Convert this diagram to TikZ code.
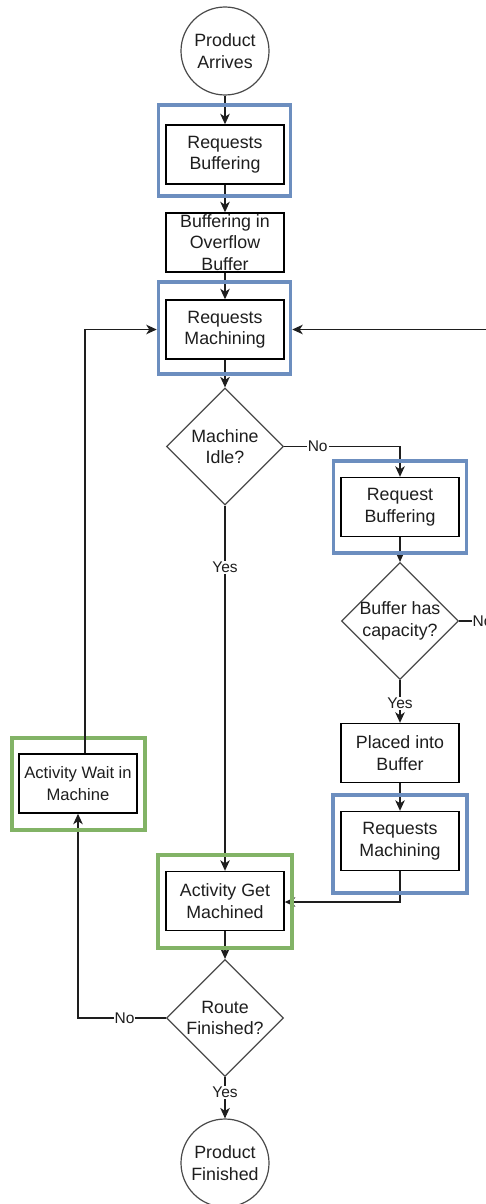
\documentclass[tikz,border=0pt]{standalone}
\usepackage{fontspec}
\setmainfont{Liberation Sans}
\usetikzlibrary{shapes.geometric,arrows.meta}
\definecolor{frameblue}{HTML}{6C8EBF}
\definecolor{framegreen}{HTML}{82B366}
\definecolor{ink}{HTML}{1E1E1E}
\definecolor{shapegray}{HTML}{4A4A4A}
\begin{document}
\begin{tikzpicture}[x=1pt,y=-1pt,
  every node/.style={text=ink},
  basefont/.style={font=\fontsize{17.8}{21.5}\selectfont, align=center},
  proc/.style={basefont, draw=black, line width=1.4pt, rectangle, inner sep=0pt,
               minimum width=118pt, minimum height=59pt},
  term/.style={basefont, draw=shapegray, line width=1.2pt, circle, inner sep=0pt,
               minimum size=88pt},
  decide/.style={draw=shapegray, line width=1.2pt, diamond, aspect=1, inner sep=0pt,
                 minimum width=117pt, minimum height=117pt},
  dtext/.style={basefont, inner sep=0pt},
  bframe/.style={draw=frameblue, line width=3.5pt, rectangle, inner sep=0pt},
  gframe/.style={draw=framegreen, line width=3.5pt, rectangle, inner sep=0pt},
  arr/.style={draw=ink, line width=1.4pt, -{Stealth[length=10.5pt,width=9.5pt,inset=3pt]}},
  lbl/.style={fill=white, inner sep=1pt, font=\fontsize{15.5}{18}\selectfont}]

\useasboundingbox (0,0) rectangle (486,1204);
\fill[white] (0,0) rectangle (486,1204);
\clip (0,0) rectangle (486,1204);

% ---- main column ----
\node[term] (start) at (225,51) {Product\\Arrives};
\node[proc] (rb)  at (225,154.5) {Requests\\Buffering};
\node[proc] (ob)  at (225,242.5) {Buffering in\\Overflow\\Buffer};
\node[proc] (rm)  at (225,329.5) {Requests\\Machining};
\node[decide] (idle) at (225,446.5) {};
\node[dtext]  (idlet) at (225,446.5) {Machine\\Idle?};
\node[proc] (agm) at (225,901) {Activity Get\\Machined};
\node[decide] (route) at (225,1018) {};
\node[dtext]  (routet) at (225,1018) {Route\\Finished?};
\node[term] (fin) at (225,1163) {Product\\Finished};

% ---- buffer branch ----
\node[proc] (rqb) at (400,507) {Request\\Buffering};
\node[decide] (cap) at (400,621) {};
\node[dtext]  (capt) at (400,621) {Buffer has\\capacity?};
\node[proc] (pib) at (400,753) {Placed into\\Buffer};
\node[proc] (rm2) at (400,841) {Requests\\Machining};

% ---- waiting loop ----
\node[proc, font=\fontsize{16.6}{21.5}\selectfont] (awm) at (78,783.5) {Activity Wait in\\Machine};

\coordinate (xr) at (530,621);

% ---- connectors ----
\draw[arr] (start) -- (rb);
\draw[arr] (rb) -- (ob);
\draw[arr] (ob) -- (rm);
\draw[arr] (rm) -- (idle.north);
\draw[arr] (idle.east) -- node[lbl,pos=0.29] {No} (idle.east -| rqb.north) -- (rqb.north);
\draw[arr] (idle.south) -- node[lbl,pos=0.17] {Yes} (agm.north);
\draw[arr] (rqb) -- (cap.north);
\draw[arr] (cap.south) -- node[lbl,pos=0.55] {Yes} (pib.north);
\draw[arr] (pib) -- (rm2);
\draw[arr] (rm2.south) |- ([yshift=-1pt]agm.east);
\draw[arr] (agm) -- (route.north);
\draw[arr] (route.south) -- node[lbl,pos=0.37] {Yes} (fin.north);
\draw[arr] (route.west) -- node[lbl,pos=0.47] {No} (route.west -| awm.south) -- (awm.south);

% ---- highlight frames ----
\node[bframe, minimum width=132pt, minimum height=91pt] (f1) at (224.5,150.5) {};
\node[bframe, minimum width=132pt, minimum height=92pt] (f2) at (224.5,328) {};
\node[bframe, minimum width=133pt, minimum height=92pt] (f3) at (400,507) {};
\node[bframe, minimum width=134pt, minimum height=98pt] (f4) at (400,844) {};
\node[gframe, minimum width=134pt, minimum height=93pt] (g1) at (225,901.5) {};
\node[gframe, minimum width=133pt, minimum height=92pt] (g2) at (78.5,784) {};

% ---- loops back into the machining request ----
\draw[arr] ([xshift=7pt]awm.north) |- (rm.west -| f2.west);
\draw[arr] (cap.east) -- node[lbl,pos=0.33] {No} (xr) |- ([yshift=-1.5pt]f2.east);

\end{tikzpicture}
\end{document}
